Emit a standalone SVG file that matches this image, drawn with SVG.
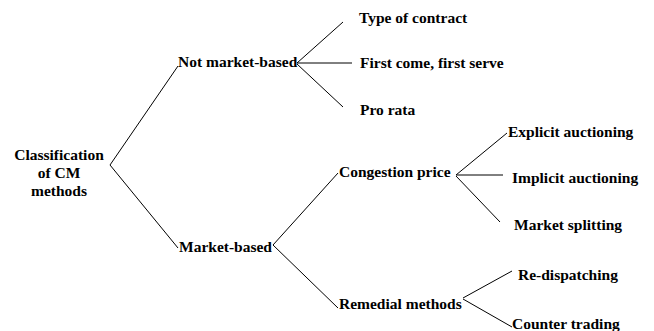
<svg xmlns="http://www.w3.org/2000/svg" width="654" height="331" viewBox="0 0 654 331">
  <style>
    text { font-family: 'Liberation Serif', 'Times New Roman', 'DejaVu Serif', serif; font-weight: bold; font-size: 15.5px; fill: #000; }
    .mid { text-anchor: middle; }
    .edge { stroke: #000; stroke-width: 1; fill: none; }
  </style>
  <rect width="654" height="331" fill="#fff"/>

  <!-- connectors of the classification tree -->
  <g id="connectors" class="edge">
    <polyline points="178,66 110,165 178,248"/>
    <line x1="297" y1="63" x2="343" y2="22"/>
    <line x1="297" y1="63" x2="352" y2="63"/>
    <line x1="297" y1="64" x2="343" y2="107"/>
    <line x1="273" y1="245" x2="338" y2="173"/>
    <line x1="273" y1="245" x2="338" y2="308"/>
    <line x1="456" y1="175" x2="507" y2="133"/>
    <line x1="456" y1="175" x2="503" y2="175"/>
    <line x1="456" y1="176" x2="500" y2="222"/>
    <line x1="463" y1="298" x2="512" y2="271"/>
    <line x1="463" y1="299" x2="512" y2="327"/>
  </g>

  <g id="root">
    <text class="mid" x="59" y="160">Classification</text>
    <text class="mid" x="59" y="178">of CM</text>
    <text class="mid" x="59" y="196">methods</text>
  </g>
  <g id="not-market-based"><text x="178" y="67">Not market-based</text></g>
  <g id="market-based"><text x="179" y="252">Market-based</text></g>
  <g id="type-of-contract"><text x="359" y="23">Type of contract</text></g>
  <g id="first-come"><text x="360" y="68">First come, first serve</text></g>
  <g id="pro-rata"><text x="360" y="115">Pro rata</text></g>
  <g id="congestion-price"><text x="339" y="177">Congestion price</text></g>
  <g id="remedial-methods"><text x="339" y="309">Remedial methods</text></g>
  <g id="explicit-auctioning"><text x="508" y="137">Explicit auctioning</text></g>
  <g id="implicit-auctioning"><text x="512" y="183">Implicit auctioning</text></g>
  <g id="market-splitting"><text x="514" y="230">Market splitting</text></g>
  <g id="re-dispatching"><text x="518" y="280">Re-dispatching</text></g>
  <g id="counter-trading"><text x="512" y="329">Counter trading</text></g>
</svg>
